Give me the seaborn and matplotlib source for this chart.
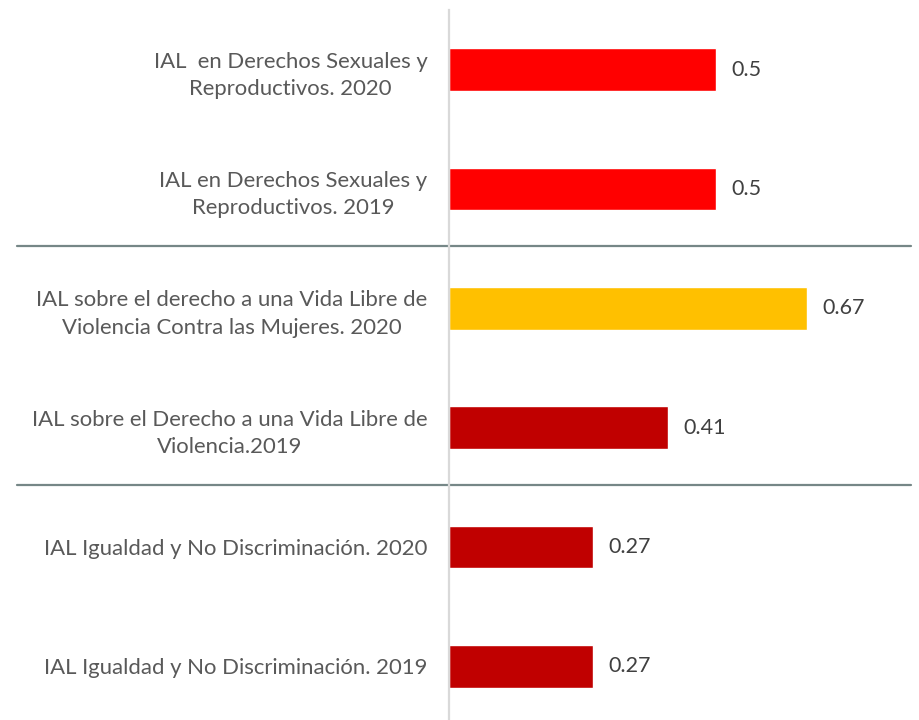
import pandas as pd
import seaborn as sns
import matplotlib.pyplot as plt
from matplotlib.transforms import blended_transform_factory

# datos
categorias = [
    'IAL  en Derechos Sexuales y\nReproductivos. 2020',
    'IAL en Derechos Sexuales y\nReproductivos. 2019',
    'IAL sobre el derecho a una Vida Libre de\nViolencia Contra las Mujeres. 2020',
    'IAL sobre el Derecho a una Vida Libre de\nViolencia.2019',
    'IAL Igualdad y No Discriminación. 2020',
    'IAL Igualdad y No Discriminación. 2019',
]
valores = [0.5, 0.5, 0.67, 0.41, 0.27, 0.27]
colores = ['#FF0000', '#FF0000', '#FFC000', '#C00000', '#C00000', '#C00000']

df = pd.DataFrame({'cat': categorias, 'val': valores})

sns.set_style('white')
plt.rcParams['font.family'] = ['Lato', 'DejaVu Sans']

fig = plt.figure(figsize=(9.19, 7.2), dpi=100)
ax = fig.add_axes([449 / 919, 1 - 726 / 720, 1 - 449 / 919, 716 / 720])

sns.barplot(data=df, y='cat', x='val', hue='cat', palette=colores,
            orient='h', width=0.36, saturation=1, legend=False, ax=ax)

ax.set_xlim(0, 470 / 534)
ax.set_ylim(5.5, -0.5)
ax.set_xlabel('')
ax.set_ylabel('')
ax.set_xticks([])
for s in ['top', 'right', 'bottom']:
    ax.spines[s].set_visible(False)
ax.spines['left'].set_color('#d9d9d9')
ax.spines['left'].set_linewidth(1.6)

ax.tick_params(axis='y', length=0, pad=15.5, labelsize=15.9, labelcolor='#595959')
for t in ax.get_yticklabels():
    t.set_multialignment('center')
    t.set_linespacing(1.45)

for c in ax.containers:
    ax.bar_label(c, fmt='%g', padding=11, fontsize=15.5, color='#404040')

# separadores entre grupos
tr = blended_transform_factory(fig.transFigure, ax.transData)
for y in [1.5, 3.5]:
    ax.plot([17 / 919, 911 / 919], [y - 0.02, y - 0.02], transform=tr,
            color='#768787', lw=1.6, clip_on=False)

fig.savefig('out.png', dpi=100)
